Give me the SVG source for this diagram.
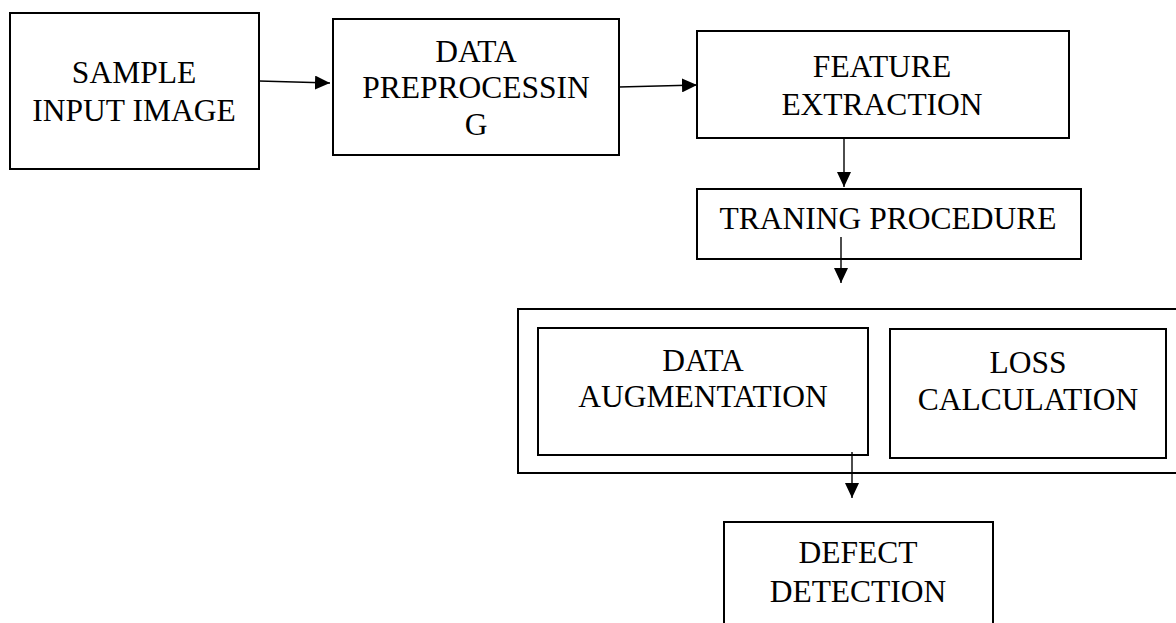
<svg xmlns="http://www.w3.org/2000/svg" width="1176" height="623" viewBox="0 0 1176 623">
  <style>
    .box { fill: #ffffff; stroke: #000000; stroke-width: 2; }
    .lbl { font-family: "Liberation Serif", "Times New Roman", serif; font-size: 31.5px; fill: #000000; text-anchor: middle; }
    .wire { fill: none; stroke: #000000; stroke-width: 1.4; marker-end: url(#head); }
  </style>
  <defs>
    <marker id="head" viewBox="0 0 15 14" refX="15" refY="7" markerWidth="15" markerHeight="14" markerUnits="userSpaceOnUse" orient="auto">
      <path d="M0,0 L15,7 L0,14 Z" fill="#000000"/>
    </marker>
  </defs>
  <rect width="1176" height="623" fill="#ffffff"/>

  <!-- Input stage -->
  <g id="sample-input">
    <rect class="box" x="10" y="13" width="249" height="156"/>
    <text class="lbl" x="134" y="83">SAMPLE</text>
    <text class="lbl" x="134" y="121">INPUT IMAGE</text>
  </g>

  <g id="preprocessing">
    <rect class="box" x="333" y="19" width="286" height="136"/>
    <text class="lbl" x="476" y="62">DATA</text>
    <text class="lbl" x="476" y="98">PREPROCESSIN</text>
    <text class="lbl" x="476" y="135">G</text>
  </g>

  <g id="feature-extraction">
    <rect class="box" x="697" y="31" width="372" height="107"/>
    <text class="lbl" x="882" y="77">FEATURE</text>
    <text class="lbl" x="882" y="115">EXTRACTION</text>
  </g>

  <g id="training">
    <rect class="box" x="697" y="189" width="384" height="70"/>
    <text class="lbl" x="888" y="229">TRANING PROCEDURE</text>
  </g>

  <!-- Training container with its two sub-steps -->
  <g id="training-block">
    <rect class="box" x="518" y="309" width="670" height="164"/>
  </g>

  <g id="augmentation">
    <rect class="box" x="538" y="328" width="330" height="127"/>
    <text class="lbl" x="703" y="371">DATA</text>
    <text class="lbl" x="703" y="407">AUGMENTATION</text>
  </g>

  <g id="loss">
    <rect class="box" x="890" y="329" width="276" height="129"/>
    <text class="lbl" x="1028" y="373">LOSS</text>
    <text class="lbl" x="1028" y="410">CALCULATION</text>
  </g>

  <g id="defect-detection">
    <rect class="box" x="724" y="522" width="269" height="130"/>
    <text class="lbl" x="858" y="563">DEFECT</text>
    <text class="lbl" x="858" y="602">DETECTION</text>
  </g>

  <!-- Connectors -->
  <g id="connectors">
    <path class="wire" d="M259,81 L330,83"/>
    <path class="wire" d="M619,87 L697,85"/>
    <path class="wire" d="M844,138 L844,187"/>
    <path class="wire" d="M841,237 L841,283"/>
    <path class="wire" d="M852,452 L852,498"/>
  </g>
</svg>
